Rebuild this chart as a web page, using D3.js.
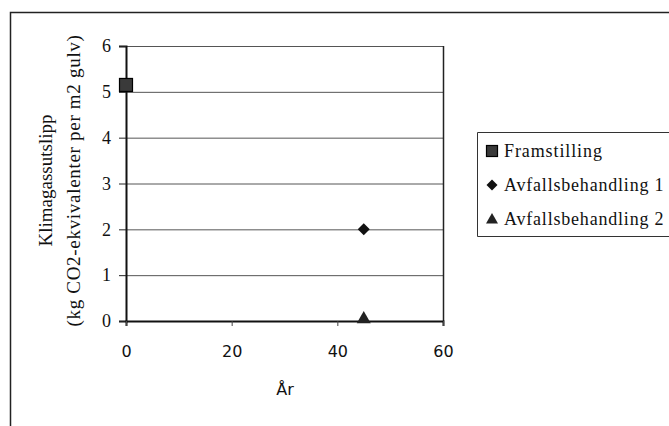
<!DOCTYPE html>
<html>
<head>
<meta charset="utf-8">
<script src="https://cdn.jsdelivr.net/npm/d3@7"></script>
<style>
  html, body { margin: 0; padding: 0; background: #fff; }
  svg { display: block; }
  .serif { font-family: "Liberation Serif", "DejaVu Serif", serif; }
  .sans { font-family: "DejaVu Sans", "Liberation Sans", sans-serif; }
</style>
</head>
<body>
<svg id="chart" width="669" height="426"></svg>
<script>
// Emission points per stage (year, kg CO2-eq per m2 floor)
const seriesNames = ["Framstilling", "Avfallsbehandling 1", "Avfallsbehandling 2"];
const seriesYears = [0, 45, 45];
const seriesValues = [5.15, 2.0, 0.0];
const seriesShapes = ["square", "diamond", "triangle"];
const xTicks = [0, 20, 40, 60];
const yTicks = [0, 1, 2, 3, 4, 5, 6];

const svg = d3.select("#chart");

// Outer chart frame (top and left edges)
svg.append("path")
  .attr("d", "M10.5,426 L10.5,12.5 L669,12.5")
  .attr("fill", "none").attr("stroke", "#222").attr("stroke-width", 1.5);

const plot = { left: 126, right: 443, top: 46, bottom: 321 };
const x = d3.scaleLinear().domain([0, 60]).range([plot.left, plot.right]);
const y = d3.scaleLinear().domain([0, 6]).range([plot.bottom, plot.top]);

// Horizontal gridlines
svg.append("g").selectAll("line").data(yTicks).join("line")
  .attr("x1", plot.left).attr("x2", plot.right)
  .attr("y1", d => y(d) + 0.5).attr("y2", d => y(d) + 0.5)
  .attr("stroke", "#555").attr("stroke-width", 1);

// Right border of plot area
svg.append("line")
  .attr("x1", plot.right + 0.5).attr("x2", plot.right + 0.5)
  .attr("y1", plot.top).attr("y2", plot.bottom)
  .attr("stroke", "#222").attr("stroke-width", 1.5);

// Y axis
const yAxis = svg.append("g")
  .attr("transform", `translate(${plot.left},0)`)
  .call(d3.axisLeft(y).tickValues(yTicks).tickFormat(d3.format("d")).tickSize(7).tickPadding(8));
yAxis.attr("font-family", null);
yAxis.select(".domain").attr("stroke", "#111").attr("stroke-width", 2);
yAxis.selectAll(".tick line").attr("stroke", "#222");
yAxis.selectAll(".tick text").attr("class", "serif").style("font-size", "18px").attr("fill", "#111");

// X axis
const xAxis = svg.append("g")
  .attr("transform", `translate(0,${plot.bottom})`)
  .call(d3.axisBottom(x).tickValues(xTicks).tickFormat(d3.format("d")).tickSize(5).tickPadding(20));
xAxis.attr("font-family", null);
xAxis.select(".domain").attr("stroke", "#111").attr("stroke-width", 2);
xAxis.selectAll(".tick line").attr("stroke", "#444");
xAxis.selectAll(".tick text").attr("class", "sans").style("font-size", "16px").attr("fill", "#111");

// Axis titles
svg.append("text")
  .attr("class", "sans")
  .attr("x", 285).attr("y", 395)
  .attr("text-anchor", "middle")
  .style("font-size", "16px").attr("fill", "#111")
  .text("År");

const yTitle = svg.append("text")
  .attr("class", "serif")
  .attr("transform", `translate(0,${(plot.top + plot.bottom) / 2}) rotate(-90)`)
  .attr("text-anchor", "middle")
  .style("font-size", "19px").attr("fill", "#111");
yTitle.append("tspan").attr("x", 3).attr("y", 52).text("Klimagassutslipp");
yTitle.append("tspan").attr("x", 3).attr("y", 80)
  .style("letter-spacing", "0.7px")
  .text("(kg CO2-ekvivalenter per m2 gulv)");

// Marker shapes
function marker(sel, shape, cx, cy, big) {
  if (shape === "square") {
    const s = big ? 13 : 11;
    sel.append("rect")
      .attr("x", cx - s / 2).attr("y", cy - s / 2).attr("width", s).attr("height", s)
      .attr("fill", "#3a3a3a").attr("stroke", "#000").attr("stroke-width", 1.2);
  } else if (shape === "diamond") {
    const r = big ? 6 : 5.5;
    sel.append("path")
      .attr("d", `M${cx},${cy - r} L${cx + r},${cy} L${cx},${cy + r} L${cx - r},${cy} Z`)
      .attr("fill", "#111");
  } else {
    const r = big ? 7 : 6;
    sel.append("path")
      .attr("d", `M${cx},${cy - r} L${cx + r},${cy + r * 0.75} L${cx - r},${cy + r * 0.75} Z`)
      .attr("fill", "#222");
  }
}

const points = svg.append("g");
seriesNames.forEach((n, i) => {
  const cy = seriesShapes[i] === "triangle" ? y(seriesValues[i]) - 3 : y(seriesValues[i]);
  marker(points, seriesShapes[i], x(seriesYears[i]), cy, true);
});

// Legend
const legend = svg.append("g");
legend.append("path")
  .attr("d", "M669,132.5 L477.5,132.5 L477.5,236.5 L669,236.5")
  .attr("fill", "#fff").attr("stroke", "#333").attr("stroke-width", 1);
const rowY = [151, 185, 219];
seriesNames.forEach((n, i) => {
  marker(legend, seriesShapes[i], 492, rowY[i], false);
  legend.append("text")
    .attr("class", "serif")
    .attr("x", 504).attr("y", rowY[i] + 6)
    .style("font-size", "18px").attr("fill", "#111")
    .style("letter-spacing", i === 0 ? "0.9px" : "0.8px")
    .text(n);
});
</script>
</body>
</html>
